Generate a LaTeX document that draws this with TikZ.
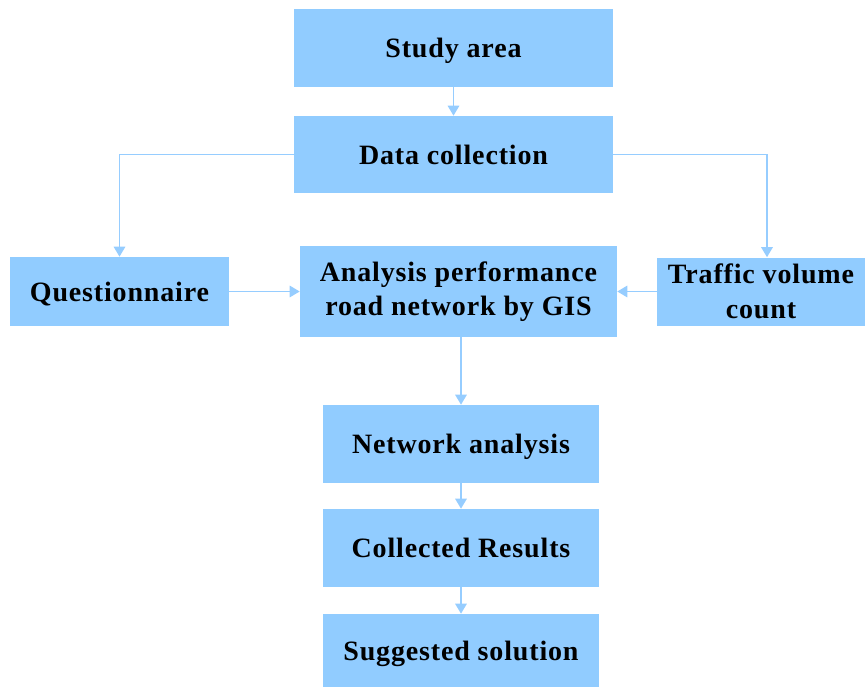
\documentclass[tikz,border=0pt]{standalone}
\usepackage{fontspec}
\setmainfont{Liberation Serif}[LetterSpace=3]
\usetikzlibrary{arrows.meta}
\definecolor{boxblue}{RGB}{145,204,255}
\definecolor{linblue}{RGB}{150,205,255}
\tikzset{
  box/.style={fill=boxblue, draw=none, inner sep=0pt, align=center,
    font=\fontsize{21}{26}\selectfont\bfseries},
  onebox/.style={box, text depth=0pt},
  arr/.style={draw=linblue, line width=1.4pt, -{Triangle[width=8.5pt,length=7.5pt]}}
}
\begin{document}
\begin{tikzpicture}[x=0.75pt,y=-0.75pt]
\useasboundingbox (0,0) rectangle (865,687);
\node[onebox, minimum width=239.25pt, minimum height=58.5pt] (study) at (453.5,48) {Study area};
\node[onebox, minimum width=239.25pt, minimum height=57.75pt] (data) at (453.5,154.5) {Data collection};
\node[onebox, minimum width=164.25pt, minimum height=51.75pt] (q) at (119.5,291.5) {Questionnaire};
\node[box, minimum width=237.75pt, minimum height=68.25pt] (ana) at (458.5,291.5) {Analysis performance\\road network by GIS};
\node[box, minimum width=156pt, minimum height=51pt] (traf) at (761,291.5) {Traffic volume\\count};
\node[onebox, minimum width=207pt, minimum height=58.5pt] (net) at (461,444) {Network analysis};
\node[onebox, minimum width=207pt, minimum height=58.5pt] (coll) at (461,548) {Collected Results};
\node[onebox, minimum width=207pt, minimum height=54.75pt] (sugg) at (461,650.5) {Suggested solution};
\draw[arr] (study.south) -- (study.south |- data.north);
\draw[arr] (data.west) -| (q.north);
\draw[arr] (data.east) -| ([xshift=4.5pt]traf.north);
\draw[arr] (q.east) -- (ana.west);
\draw[arr] (traf.west) -- (ana.east);
\draw[arr] (ana.south -| net.north) -- (net.north);
\draw[arr] (net.south) -- (coll.north);
\draw[arr] (coll.south) -- (sugg.north);
\end{tikzpicture}
\end{document}
